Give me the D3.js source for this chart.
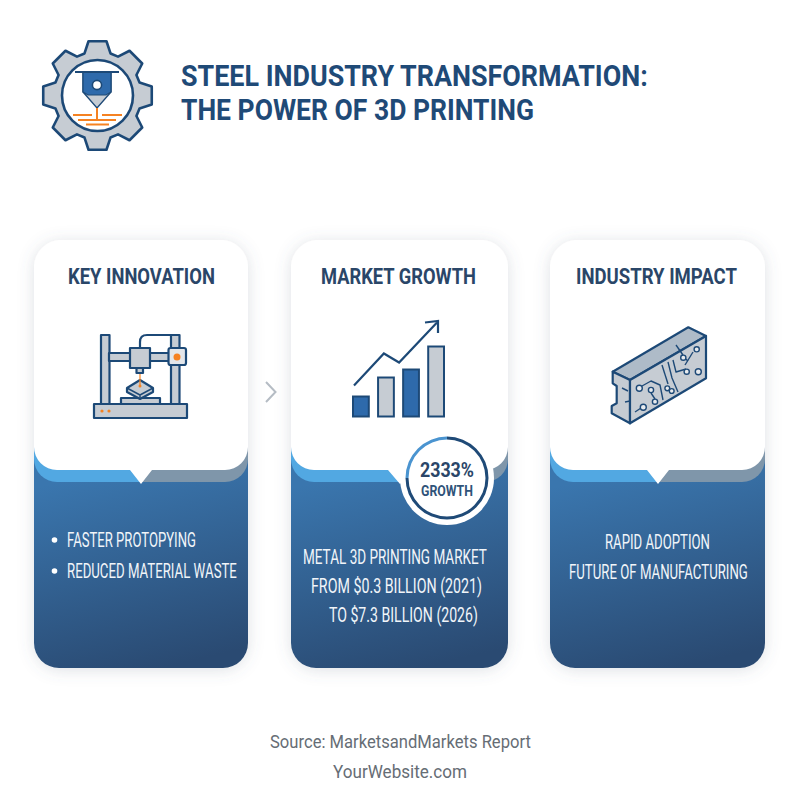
<!DOCTYPE html>
<html><head><meta charset="utf-8">
<script src="https://cdn.jsdelivr.net/npm/d3@7/dist/d3.min.js"></script>
<style>html,body{margin:0;padding:0;background:#fff}svg{display:block}text{font-family:Roboto,sans-serif}</style>
</head><body><svg id="c" width="800" height="800" viewBox="0 0 800 800"></svg>
<script>
// ---- content ----
const titleLines = ["STEEL INDUSTRY TRANSFORMATION:", "THE POWER OF 3D PRINTING"];
const cardTitles = ["KEY INNOVATION", "MARKET GROWTH", "INDUSTRY IMPACT"];
const innovationItems = ["FASTER PROTOPYING", "REDUCED MATERIAL WASTE"];
const marketLines = ["METAL 3D PRINTING MARKET", "FROM $0.3 BILLION (2021)", "TO $7.3 BILLION (2026)"];
const impactLines = ["RAPID ADOPTION", "FUTURE OF MANUFACTURING"];
const footerLines = ["Source: MarketsandMarkets Report", "YourWebsite.com"];
const growthPct = 2333;
// icon bar chart
const iconBarValues = [20, 39, 47, 70];
const iconTrendValues = [31, 63, 54, 94];

const navy="#1f4a77", ink="#2a4668", blue="#2f6bab", steel="#c6ccd3", orange="#f58220";
const svg=d3.select("#c");
const defs=svg.append("defs");
const grad=defs.append("linearGradient").attr("id","cardGrad").attr("x1",0.4).attr("y1",0.12).attr("x2",0.6).attr("y2",1);
grad.append("stop").attr("offset","0").attr("stop-color","#3a76ae");
grad.append("stop").attr("offset","1").attr("stop-color","#2a4a72");
const softF=defs.append("filter").attr("id","soft").attr("x","-20%").attr("y","-20%").attr("width","140%").attr("height","140%");
softF.append("feDropShadow").attr("dx",0).attr("dy",2).attr("stdDeviation",8).attr("flood-color","#5a6a7a").attr("flood-opacity",0.2);
defs.append("filter").attr("id","blur").append("feGaussianBlur").attr("stdDeviation",0.4);

// text squeezed horizontally to a measured width, keeping its real height
function fit(sel,txt,x,y,w,size,weight,fill){
  const t=sel.append("text").attr("font-size",size).attr("font-weight",weight).attr("fill",fill).text(txt);
  const k=w/t.node().getComputedTextLength();
  t.attr("transform",`translate(${x},${y}) scale(${k},1)`);
  return t;
}

// ---- header gear ----
const gear=svg.append("g").attr("filter","url(#blur)");
const cx=97.5, cy=95.5, teeth=8, rO=55, rR=44;
const pts=[];
for(let i=0;i<teeth;i++){
  const a=i*2*Math.PI/teeth-Math.PI/2;
  const P=(r,t)=>[cx+r*Math.cos(t),cy+r*Math.sin(t)];
  pts.push(P(rR,a-0.30),P(rO,a-0.164),P(rO,a+0.164),P(rR,a+0.30));
}
gear.append("path").attr("d",d3.line().curve(d3.curveLinearClosed)(pts)).attr("fill",steel).attr("stroke",navy).attr("stroke-width",2.6).attr("stroke-linejoin","round");
gear.append("circle").attr("cx",cx).attr("cy",cy).attr("r",35.5).attr("fill","#fff").attr("stroke",navy).attr("stroke-width",2.6);
gear.append("path").attr("d","M83 72H111V92L97 108L83 92Z").attr("fill",steel).attr("stroke",navy).attr("stroke-width",1.4);
gear.append("path").attr("d","M83 72H111V92L106 95H88L83 92Z").attr("fill",blue).attr("stroke",navy).attr("stroke-width",1.2);
gear.append("line").attr("x1",75).attr("x2",119).attr("y1",72).attr("y2",72).attr("stroke",navy).attr("stroke-width",2.2);
gear.append("circle").attr("cx",97).attr("cy",85).attr("r",4.6).attr("fill","#fff").attr("stroke",navy).attr("stroke-width",1.6);
[[73,92,115],[102,122,115],[78,116,120],[86,109,124.5]].forEach(d=>gear.append("line").attr("x1",d[0]).attr("x2",d[1]).attr("y1",d[2]).attr("y2",d[2]).attr("stroke",orange).attr("stroke-width",2));
gear.append("line").attr("x1",97).attr("x2",97).attr("y1",108).attr("y2",120).attr("stroke",orange).attr("stroke-width",2);

// ---- title ----
fit(svg,titleLines[0],181,86,467,30,700,navy);
fit(svg,titleLines[1],181,120,353,30,700,navy);

// ---- cards ----
const cards=[{x0:34,x1:248,tip:141,n0:130,n1:152},{x0:291,x1:508,tip:400,n0:388,n1:412},{x0:550,x1:765,tip:658,n0:647,n1:669}];
const cardTop=240,cardBot=668,whiteEnd=470,bandEnd=482,bandStart=440,rTop=30,rIn=23,rBot=25;
cards.forEach(c=>{
  const G=svg.append("g");
  G.append("rect").attr("x",c.x0).attr("y",cardTop).attr("width",c.x1-c.x0).attr("height",cardBot-cardTop).attr("rx",rBot+2).attr("fill","#fff").attr("filter","url(#soft)");
  const base=d3.path();
  base.moveTo(c.x0,cardTop+200);base.lineTo(c.x1,cardTop+200);base.arcTo(c.x1,cardBot,c.x1-rBot,cardBot,rBot);base.arcTo(c.x0,cardBot,c.x0,cardBot-rBot,rBot);base.closePath();
  G.append("path").attr("d",base.toString()).attr("fill","url(#cardGrad)");
  const bandL=d3.path();
  bandL.moveTo(c.x0,bandStart);bandL.arcTo(c.x0,bandEnd,c.x0+rIn,bandEnd,rIn);bandL.lineTo(c.tip,bandEnd);bandL.lineTo(c.tip,bandStart);bandL.closePath();
  G.append("path").attr("d",bandL.toString()).attr("fill","#52a8e2");
  const bandR=d3.path();
  bandR.moveTo(c.x1,bandStart);bandR.arcTo(c.x1,bandEnd,c.x1-rIn,bandEnd,rIn);bandR.lineTo(c.tip,bandEnd);bandR.lineTo(c.tip,bandStart);bandR.closePath();
  G.append("path").attr("d",bandR.toString()).attr("fill","#7f96aa");
  const w=d3.path();
  w.moveTo(c.x0+rTop,cardTop);w.arcTo(c.x1,cardTop,c.x1,cardTop+rTop,rTop);w.arcTo(c.x1,whiteEnd,c.x1-rIn,whiteEnd,rIn);
  w.lineTo(c.n1,whiteEnd);w.lineTo(c.tip,whiteEnd+14);w.lineTo(c.n0,whiteEnd);
  w.arcTo(c.x0,whiteEnd,c.x0,whiteEnd-rIn,rIn);w.arcTo(c.x0,cardTop,c.x0+rTop,cardTop,rTop);w.closePath();
  G.append("path").attr("d",w.toString()).attr("fill","#fff");
});
const titleFit=[[68,147],[321,155],[576,161]];
cardTitles.forEach((t,i)=>fit(svg,t,titleFit[i][0],284,titleFit[i][1],22.5,700,ink));

// chevron between cards
svg.append("path").attr("d","M266 382L275.5 392L266 402").attr("fill","none").attr("stroke","#b5bcc4").attr("stroke-width",2);

// ---- printer icon ----
const pr=svg.append("g").attr("filter","url(#blur)").attr("stroke",navy).attr("stroke-width",2.2).attr("stroke-linejoin","round");
[[101,335,8.5,69],[171,335,8.5,69],[109,353,62,8]].forEach(d=>pr.append("rect").attr("x",d[0]).attr("y",d[1]).attr("width",d[2]).attr("height",d[3]).attr("fill",steel));
pr.append("path").attr("d","M140 348V342Q140 335 147 335H171").attr("fill","none");
pr.append("rect").attr("x",130).attr("y",348).attr("width",20).attr("height",20).attr("fill",steel);
pr.append("rect").attr("x",136.5).attr("y",368).attr("width",6.5).attr("height",5).attr("fill",steel);
pr.append("rect").attr("x",168.5).attr("y",348).attr("width",17.5).attr("height",17).attr("rx",2).attr("fill","#e3e6ea");
pr.append("circle").attr("cx",177).attr("cy",357).attr("r",3.5).attr("fill",orange).attr("stroke","none");
pr.append("rect").attr("x",121).attr("y",398).attr("width",39).attr("height",6).attr("fill",steel);
pr.append("path").attr("d","M127 388L140 380L153 388V392L140 399L127 392Z").attr("fill",steel);
pr.append("path").attr("d","M127 388L140 395L153 388M140 395V399").attr("fill","none").attr("stroke-width",1.5);
pr.append("rect").attr("x",94).attr("y",404).attr("width",93).attr("height",14).attr("fill",steel);
pr.append("line").attr("x1",140).attr("x2",140).attr("y1",374).attr("y2",386).attr("stroke",orange).attr("stroke-width",1.2);
pr.append("circle").attr("cx",140).attr("cy",386).attr("r",1.5).attr("fill",orange).attr("stroke","none");
[102,109].forEach(x=>pr.append("circle").attr("cx",x).attr("cy",411).attr("r",1.6).attr("fill",orange).attr("stroke","none"));

// ---- growth icon (bars and trend through scales) ----
const xB=d3.scaleBand().domain(d3.range(iconBarValues.length)).range([352,445]).paddingInner(0.29);
const yB=d3.scaleLinear().domain([0,70]).range([416.5,346.5]);
const ic=svg.append("g").attr("filter","url(#blur)");
ic.selectAll("rect").data(iconBarValues).join("rect")
  .attr("x",(d,i)=>xB(i)+1).attr("y",d=>yB(d)).attr("width",xB.bandwidth()-2).attr("height",d=>yB(0)-yB(d))
  .attr("fill",(d,i)=>i%2?steel:blue).attr("stroke",navy).attr("stroke-width",2);
const xT=d3.scaleLinear().domain([0,3]).range([354,437]);
const trendX=[0,1.08,1.63,3];
ic.append("path").datum(iconTrendValues)
  .attr("d",d3.line().x((d,i)=>xT(trendX[i])).y(d=>yB(d))).attr("fill","none").attr("stroke",navy).attr("stroke-width",2.2);
ic.append("path").attr("d","M425 322.5L438 321L438 333").attr("fill","none").attr("stroke",navy).attr("stroke-width",2.2);

// ---- beam icon ----
const bm=svg.append("g").attr("filter","url(#blur)").attr("stroke",navy).attr("stroke-width",2.2).attr("stroke-linejoin","round");
bm.append("path").attr("d","M612.7 371.7L688.3 327.3L706 336L630 380Z").attr("fill","#aebbc8");
bm.append("path").attr("d","M612.7 371.7V383.3L616.7 386V403.3L611.7 406V413.3L630 423.3V380Z").attr("fill",steel);
bm.append("path").attr("d","M630 380L706 336V378.3L630 423.3Z").attr("fill",steel);
const tr=bm.append("g").attr("fill","none").attr("stroke-width",1.4);
["M642 386L651 381L660 385L663 400","M644 406L635 412","M651 393L655 399","M662 365L668 384","M668 362L672 378L678 392","M673 360L676 372L686 369",
 "M681 355L688 361","M676 345L683 355","M693 352L685 365","M622 388L628 391","M625 402L630 401"].forEach(d=>tr.append("path").attr("d",d));
[[639.3,388.3,3],[651,390,2.6],[655,401.7,2.6],[643.3,407.3,3],[667.3,388.3,2.4],[671.7,391,2.4],[683.3,357.7,2.6],[686.7,371.7,2.6],[698.3,371.7,3],[696.7,349.3,2.6]]
 .forEach(d=>bm.append("circle").attr("cx",d[0]).attr("cy",d[1]).attr("r",d[2]).attr("fill","#e8ebee").attr("stroke-width",1.4));

// ---- growth badge ----
const b=svg.append("g").attr("transform","translate(447,478)");
b.append("circle").attr("r",47).attr("fill","#fff");
const arc=d3.arc().innerRadius(38.5).outerRadius(41.5);
b.append("path").attr("d",arc({startAngle:0,endAngle:Math.PI*1.5})).attr("fill","#1f4a77");
b.append("path").attr("d",arc({startAngle:Math.PI*1.5,endAngle:Math.PI*2})).attr("fill","#4a94d0");
fit(b,growthPct+"%",-27,-0.7,54,20,700,ink);
fit(b,"GROWTH",-26,17.7,52,14.5,700,"#2f5379");

// ---- card body text ----
const white="#f1f5f9";
innovationItems.forEach((t,i)=>{
  const y=[546.5,577.5][i];
  svg.append("circle").attr("cx",54.5).attr("cy",y-6.5).attr("r",2.8).attr("fill","#fff");
  fit(svg,t,67,y,[129,170][i],20,400,white);
});
[[303,184,563.5],[311,171,592.7],[329,149,621.7]].forEach((d,i)=>fit(svg,marketLines[i],d[0],d[2],d[1],20,400,white));
[[605,105,549],[569,179,578.5]].forEach((d,i)=>fit(svg,impactLines[i],d[0],d[2],d[1],20,400,white));

// ---- footer ----
fit(svg,footerLines[0],270,747.7,261,18.7,400,"#666d75");
fit(svg,footerLines[1],333,777.7,134,18.7,400,"#666d75");
</script></body></html>
